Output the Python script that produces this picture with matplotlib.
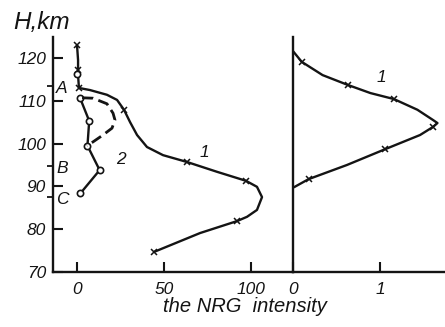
import matplotlib
matplotlib.use("Agg")
import matplotlib.pyplot as plt

# ---- data ----
# Curve 1 (left panel): path and x-markers
c1_path_x = [0, 0.6, 0.6, 1.1, 7.5, 17.2, 23.0, 27.0, 30.5, 34.5, 40.2, 49.4, 63.2, 80.5, 97.1, 103.4, 106.3, 103.4, 97.7, 92.0, 70.7, 44.3]
c1_path_h = [123.0, 119.5, 116.0, 113.0, 112.5, 111.4, 110.2, 107.9, 105.0, 102.0, 99.2, 97.3, 95.7, 93.4, 91.3, 89.9, 87.5, 84.5, 82.9, 81.9, 79.1, 74.7]
c1_mark_x = [0, 0.6, 1.1, 27.0, 63.2, 97.1, 92.0, 44.3]
c1_mark_h = [123.0, 117.2, 113.0, 107.9, 95.7, 91.3, 81.9, 74.7]

# Curve 2 (left panel): circles joined by a solid line
c2_x = [1.7, 7.0, 6.0, 13.0, 2.0]
c2_h = [110.7, 105.3, 99.5, 93.8, 88.4]
c2_top_x = [0.0]
c2_top_h = [116.3]

# Dashed curve (left panel)
dash_x = [2.9, 9.2, 17.2, 20.7, 21.8, 20.1, 14.9, 9.2, 5.7]
dash_h = [110.7, 110.6, 109.3, 107.1, 105.5, 103.6, 102.0, 100.4, 99.5]

# Right panel curve 1
r_path_x = [0.0, 0.10, 0.34, 0.63, 0.89, 1.16, 1.43, 1.61, 1.66, 1.61, 1.46, 1.06, 0.62, 0.18, 0.02]
r_path_h = [121.6, 119.1, 116.0, 113.7, 111.8, 110.4, 107.9, 105.5, 104.8, 103.9, 102.0, 98.7, 95.0, 91.7, 89.9]
r_mark_x = [0.10, 0.63, 1.16, 1.61, 1.06, 0.18]
r_mark_h = [119.1, 113.7, 110.4, 103.9, 98.7, 91.7]

# ticks / labels
h_ticks = [70, 80, 90, 100, 110, 120]
left_xticks = [0, 50, 100]
right_xticks = [0, 1]
abc_h = [113.5, 94.8, 87.5]
abc_labels = ["A", "B", "C"]

INK = "#141414"
FONT = "Liberation Sans"
W, H = 445, 327

fig = plt.figure(figsize=(W / 100, H / 100), dpi=100)
fig.patch.set_facecolor("white")

def fx(px):
    return px / W

def fy(py):
    return 1 - py / H

ax = fig.add_axes([fx(53), fy(272), fx(293) - fx(53), fy(37) - fy(272)])
axr = fig.add_axes([fx(293), fy(272), fx(445) - fx(293), fy(37) - fy(272)])

for a in (ax, axr):
    a.set_facecolor("none")
    a.set_ylim(70, 124.9)
    for s in ("top", "right"):
        a.spines[s].set_visible(False)
    for s in ("left", "bottom"):
        a.spines[s].set_linewidth(1.7)
        a.spines[s].set_color(INK)

ax.set_xlim(-13.8, 124.1)
axr.set_xlim(0, 1.747)

lw = 1.7
ax.plot(c1_path_x, c1_path_h, color=INK, lw=lw, solid_capstyle="round")
ax.plot(c1_mark_x, c1_mark_h, ls="none", marker="x", ms=5, mew=1.1, color=INK)
ax.plot(c2_x, c2_h, color=INK, lw=lw, marker="o", ms=4.5, mfc="white", mec=INK, mew=1.2)
ax.plot(c2_top_x, c2_top_h, ls="none", marker="o", ms=4.5, mfc="white", mec=INK, mew=1.2)
ax.plot(dash_x, dash_h, color=INK, lw=2.0, ls=(0, (4, 2)))

axr.plot(r_path_x, r_path_h, color=INK, lw=lw)
axr.plot(r_mark_x, r_mark_h, ls="none", marker="x", ms=5, mew=1.1, color=INK)

tick_font = dict(family=FONT, style="italic", size=12.5)

# left y ticks (inward) with labels
ax.set_yticks(h_ticks)
ax.set_yticklabels([str(v) for v in h_ticks], fontdict=tick_font, color=INK)
ax.tick_params(axis="y", which="major", direction="in", length=7, width=1.5, pad=5, colors=INK)
ax.set_yticks(abc_h, minor=True)
ax.tick_params(axis="y", which="minor", direction="out", length=4, width=1.3, colors=INK)
for hv, lab in zip(abc_h, abc_labels):
    ax.text(-12.0, hv - 0.6, lab, ha="left", va="center", color=INK, **tick_font)

ax.set_xticks(left_xticks)
ax.set_xticklabels([str(v) for v in left_xticks], fontdict=tick_font, color=INK)
ax.tick_params(axis="x", direction="in", length=7, width=1.5, pad=7, colors=INK)

axr.set_yticks([])
axr.set_xticks(right_xticks)
axr.set_xticklabels([str(v) for v in right_xticks], fontdict=tick_font, color=INK)
axr.tick_params(axis="x", direction="in", length=7, width=1.5, pad=7, colors=INK)

# curve labels
ax.text(73, 98.0, "1", ha="center", va="center", color=INK, **tick_font)
ax.text(25, 96.3, "2", ha="center", va="center", color=INK, **tick_font)
axr.text(1.01, 115.5, "1", ha="center", va="center", color=INK, **tick_font)

fig.text(fx(42), fy(22), "H,km", ha="center", va="center", color=INK,
         family=FONT, style="italic", size=17.5)
fig.text(fx(245), fy(307), "the NRG  intensity", ha="center", va="center", color=INK,
         family=FONT, style="italic", size=14.5)

fig.savefig("out.png", dpi=100, facecolor="white")
